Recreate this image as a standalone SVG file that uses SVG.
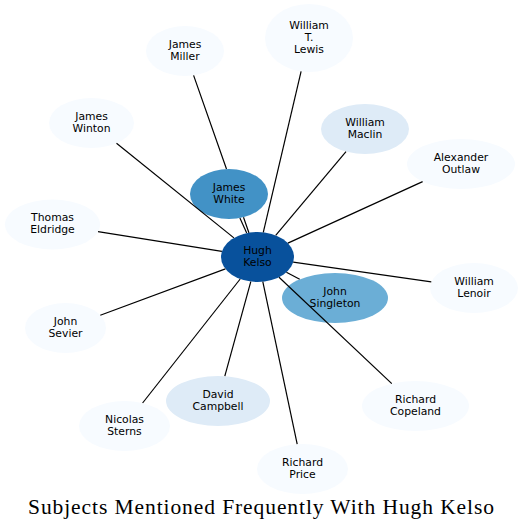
<svg xmlns="http://www.w3.org/2000/svg" width="523" height="530" viewBox="0 0 523 530">
<style>
.n text{font-family:"DejaVu Sans",Verdana,sans-serif;font-size:10.8px;fill:#000;text-anchor:middle}
.c0{fill:#f7fbff}.c1{fill:#deebf7}.c2{fill:#6baed6}.c3{fill:#4292c6}.c4{fill:#08519c}
#edges path{stroke:#000;stroke-width:1.2;fill:none}
.title{font-family:"Liberation Serif","Times New Roman",serif;font-size:21.5px;fill:#000;text-anchor:middle}
</style>
<rect width="523" height="530" fill="#fff"/>
<g id="nodes">
<g id="n-hugh-kelso" class="n"><ellipse class="c4" cx="257.5" cy="257" rx="36.5" ry="25"/><text x="257.5" y="254">Hugh</text><text x="257.5" y="266">Kelso</text></g>
<g id="n-james-white" class="n"><ellipse class="c3" cx="229" cy="194" rx="39" ry="25"/><text x="229" y="190.5">James</text><text x="229" y="202.5">White</text></g>
<g id="n-john-singleton" class="n"><ellipse class="c2" cx="335" cy="298" rx="53" ry="25"/><text x="335" y="294.5">John</text><text x="335" y="306.5">Singleton</text></g>
<g id="n-james-miller" class="n"><ellipse class="c0" cx="185" cy="51" rx="39" ry="25"/><text x="185" y="47.5">James</text><text x="185" y="59.5">Miller</text></g>
<g id="n-william-t-lewis" class="n"><ellipse class="c0" cx="309" cy="38" rx="44" ry="34"/><text x="309" y="28.5">William</text><text x="309" y="40.5">T.</text><text x="309" y="52.5">Lewis</text></g>
<g id="n-james-winton" class="n"><ellipse class="c0" cx="91.5" cy="123" rx="42.5" ry="25"/><text x="91.5" y="119.5">James</text><text x="91.5" y="131.5">Winton</text></g>
<g id="n-william-maclin" class="n"><ellipse class="c1" cx="365" cy="129" rx="44" ry="25"/><text x="365" y="125.5">William</text><text x="365" y="137.5">Maclin</text></g>
<g id="n-alexander-outlaw" class="n"><ellipse class="c0" cx="461" cy="164" rx="54" ry="25"/><text x="461" y="160.5">Alexander</text><text x="461" y="172.5">Outlaw</text></g>
<g id="n-thomas-eldridge" class="n"><ellipse class="c0" cx="52.5" cy="224.5" rx="47.5" ry="25"/><text x="52.5" y="221">Thomas</text><text x="52.5" y="233">Eldridge</text></g>
<g id="n-william-lenoir" class="n"><ellipse class="c0" cx="474" cy="288" rx="44" ry="25"/><text x="474" y="284.5">William</text><text x="474" y="296.5">Lenoir</text></g>
<g id="n-john-sevier" class="n"><ellipse class="c0" cx="65.5" cy="328" rx="40.5" ry="25"/><text x="65.5" y="324.5">John</text><text x="65.5" y="336.5">Sevier</text></g>
<g id="n-nicolas-sterns" class="n"><ellipse class="c0" cx="124.5" cy="426" rx="45.5" ry="25"/><text x="124.5" y="422.5">Nicolas</text><text x="124.5" y="434.5">Sterns</text></g>
<g id="n-david-campbell" class="n"><ellipse class="c1" cx="218" cy="401" rx="52" ry="25"/><text x="218" y="397.5">David</text><text x="218" y="409.5">Campbell</text></g>
<g id="n-richard-price" class="n"><ellipse class="c0" cx="302.5" cy="469" rx="45.5" ry="25"/><text x="302.5" y="465.5">Richard</text><text x="302.5" y="477.5">Price</text></g>
<g id="n-richard-copeland" class="n"><ellipse class="c0" cx="415.5" cy="406" rx="53.5" ry="25"/><text x="415.5" y="402.5">Richard</text><text x="415.5" y="414.5">Copeland</text></g>
</g>
<g id="edges">
<path d="M193.6,75.4L226.5,169M243.5,217.2L248.9,232.7"/>
<path d="M246.7,233.1L239.9,218"/>
<path d="M263.3,232.3L301.1,71.4"/>
<path d="M233.9,237.9L116.5,143.2"/>
<path d="M275.7,235.3L346,151.6"/>
<path d="M287.9,243.1L422.6,181.6"/>
<path d="M221.9,251.4L98,231.7"/>
<path d="M293.2,262.1L431.3,281.9"/>
<path d="M286.4,272.3L299.7,279.3"/>
<path d="M279,277.2L391.8,383.6"/>
<path d="M262.8,281.7L297.2,444.2"/>
<path d="M250.8,281.6L224.8,376.2"/>
<path d="M240.2,279L142.6,403"/>
<path d="M225.4,268.9L100.3,315.2"/>
</g>
<text class="title" x="261" y="513.5" textLength="466" lengthAdjust="spacing">Subjects Mentioned Frequently With Hugh Kelso</text>
</svg>
